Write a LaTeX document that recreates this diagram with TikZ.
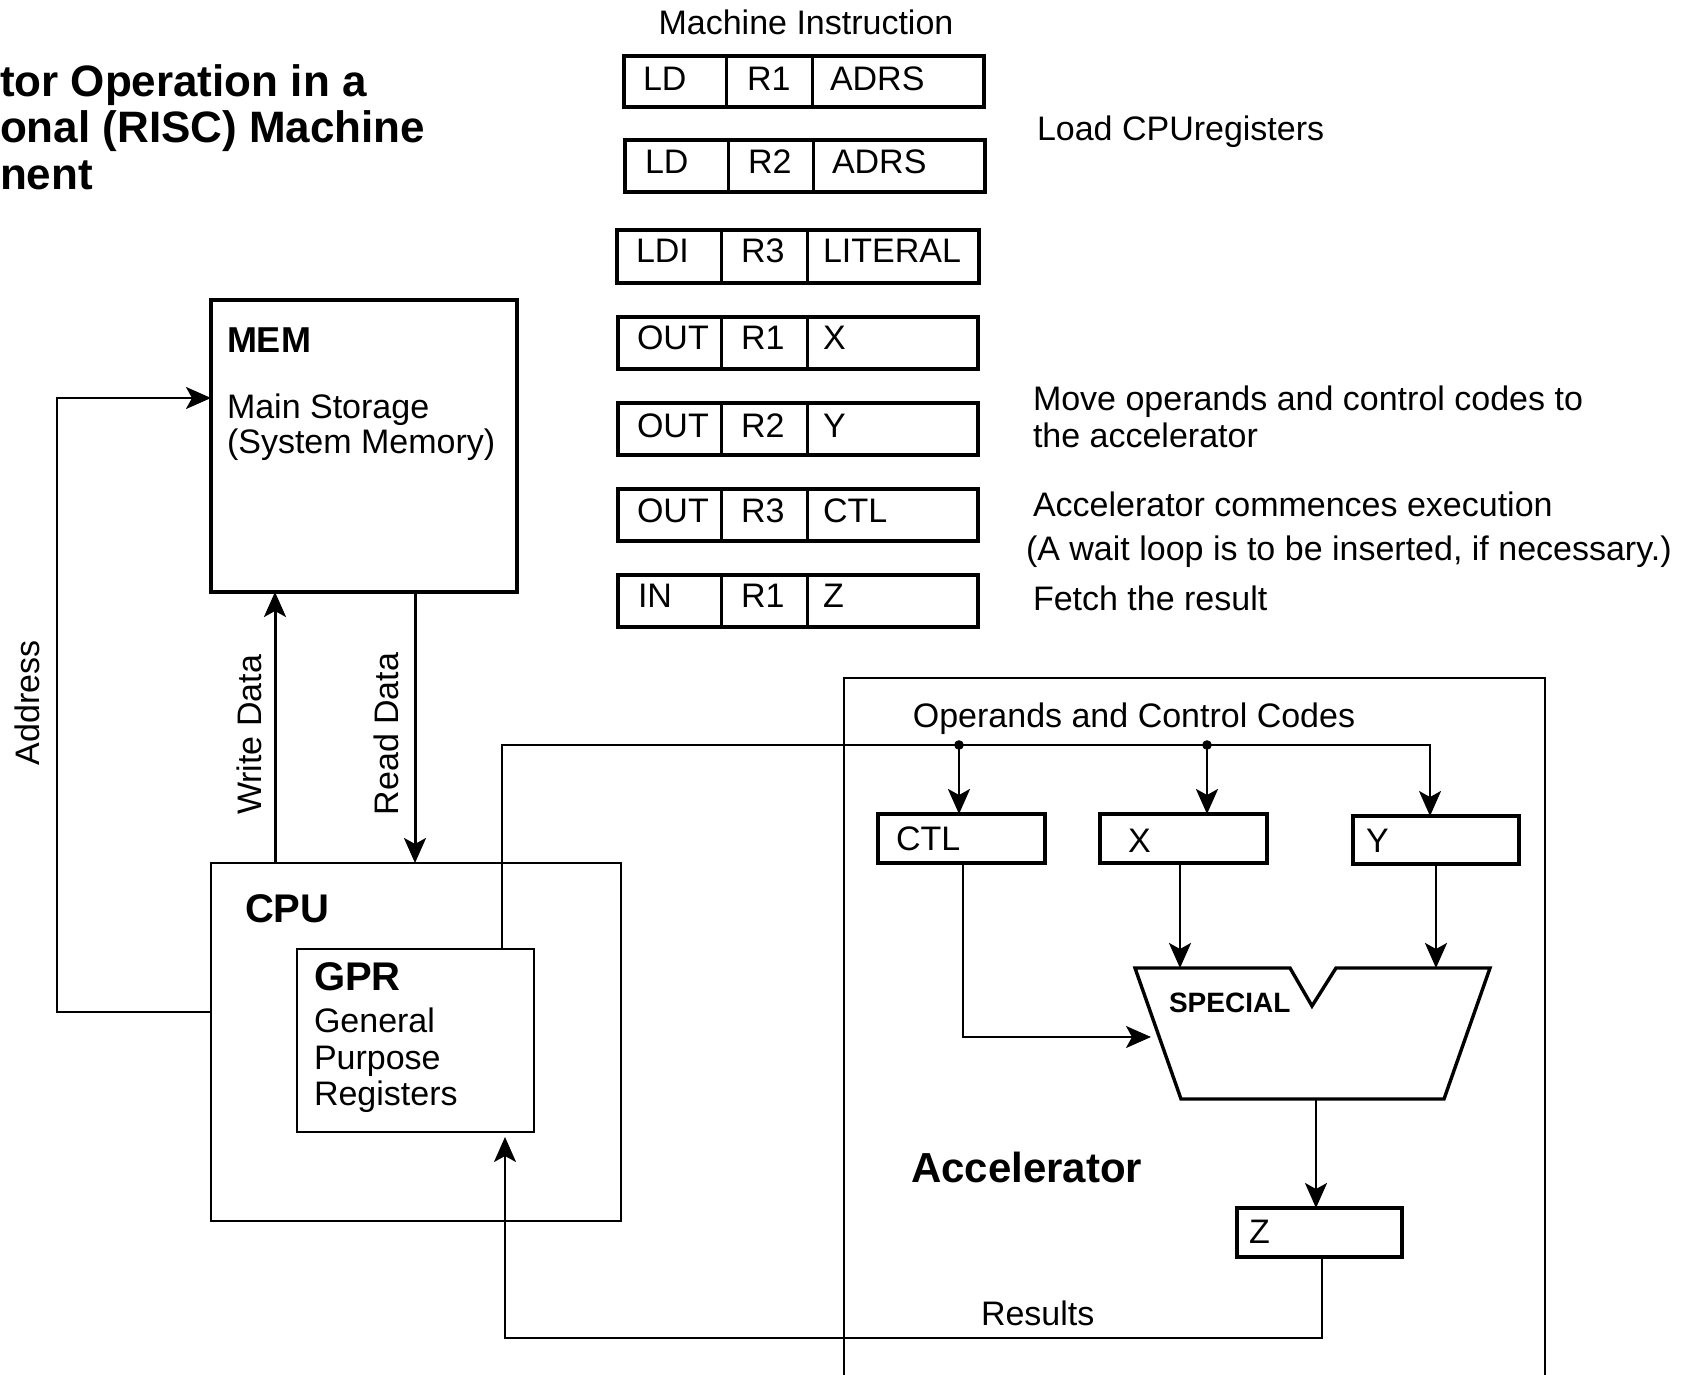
\documentclass[tikz,border=0pt]{standalone}
\usepackage{fontspec}
\setmainfont{Liberation Sans}
\usetikzlibrary{arrows.meta,fit}

\begin{document}
\begin{tikzpicture}[x=0.5pt,y=-0.5pt,
  every node/.style={inner sep=0pt,outer sep=0pt},
  txt/.style={anchor=base west,font=\fontsize{17}{20}\selectfont},
  vtxt/.style={anchor=center,rotate=90,font=\fontsize{17}{20}\selectfont},
  ttl/.style={anchor=base west,font=\bfseries\fontsize{22}{26}\selectfont},
  bold/.style={anchor=base west,font=\bfseries\fontsize{#1}{#1}\selectfont},
  heavybox/.style={draw,line width=1.7pt},
  insbox/.style={draw,line width=1.6pt},
  regbox/.style={draw,line width=1.6pt},
  thinbox/.style={draw,line width=1pt},
  conn/.style={line width=1pt},
  tip/.style={-{Stealth[length=12.5pt,width=11pt,inset=3pt]}},
  arr/.style={tip,line width=1.4pt},
  dot/.style={fill=black}]

\useasboundingbox (0,0) rectangle (1692,1375);

% title (left part)
\node[ttl] (t1) at (0,97) {tor Operation in a};
\node[ttl] (t2) at (0,143) {onal (RISC) Machine};
\node[ttl] (t3) at (0,190) {nent};

% instruction sequence
\node[anchor=base,font=\fontsize{17}{20}\selectfont] (mi) at (806,35) {Machine Instruction};
\foreach \n/\l/\t/\r/\b/\da/\db/\base/\xa/\xb/\xc/\ta/\tb/\tc in {
  1/624/56/984/107/726/812/91/643/747/830/LD/R1/ADRS,
  2/625/140/985/192/728/813/174/645/748/832/LD/R2/ADRS,
  3/617/230/979/283/721/807/263/636/741/823/LDI/R3/LITERAL,
  4/618/317/978/369/721/807/350/637/741/823/OUT/R1/X,
  5/618/403/978/455/721/807/437/637/741/823/OUT/R2/Y,
  6/618/489/978/541/721/807/522/637/741/823/OUT/R3/CTL,
  7/618/575/978/627/721/807/607/638/741/823/IN/R1/Z}
{
  \node[insbox,fit={(\l,\t) (\r,\b)}] (ins\n) {};
  \draw[line width=1.5pt] (\da,\t) -- (\da,\b);
  \draw[line width=1.5pt] (\db,\t) -- (\db,\b);
  \node[txt] (ins\n-a) at (\xa,\base) {\ta};
  \node[txt] (ins\n-b) at (\xb,\base) {\tb};
  \node[txt] (ins\n-c) at (\xc,\base) {\tc};
}

% comments on the instruction sequence
\node[txt] (c1) at (1037,141) {Load CPUregisters};
\node[txt] (c2) at (1033,410) {Move operands and control codes to};
\node[txt] (c3) at (1033,447) {the accelerator};
\node[txt] (c4) at (1033,516) {Accelerator commences execution};
\node[txt] (c5) at (1026,560) {(A wait loop is to be inserted, if necessary.)};
\node[txt] (c6) at (1033,610) {Fetch the result};

% main storage
\node[heavybox,fit={(211,300) (517,592)}] (mem) {};
\node[bold=18] (memT) at (227,352) {MEM};
\node[txt] (mem1) at (227,418) {Main Storage};
\node[txt] (mem2) at (227,453) {(System Memory)};

% CPU with general purpose registers
\node[thinbox,fit={(211,863) (621,1221)}] (cpu) {};
\node[bold=20] (cpuT) at (245,922) {CPU};
\node[thinbox,line width=1.1pt,fit={(297,949) (534,1132)}] (gpr) {};
\node[bold=20] (gprT) at (314,990) {GPR};
\node[txt] (gpr1) at (314,1032) {General};
\node[txt] (gpr2) at (314,1069) {Purpose};
\node[txt] (gpr3) at (314,1105) {Registers};

% accelerator frame (open towards the bottom edge)
\draw[line width=1pt] (844,1375) -- (844,678) -- (1545,678) -- (1545,1375);
\node[anchor=base,font=\fontsize{17}{20}\selectfont] (opc) at (1134,727) {Operands and Control Codes};
\node[bold=21] (accT) at (911,1182) {Accelerator};

% accelerator registers
\node[regbox,fit={(878,814) (1045,863)}] (ctl) {};
\node[txt] (ctlT) at (896,850) {CTL};
\node[regbox,fit={(1100,814) (1267,863)}] (xr) {};
\node[txt] (xT) at (1128,852) {X};
\node[regbox,fit={(1353,816) (1519,864)}] (yr) {};
\node[txt] (yT) at (1366,852) {Y};
\node[regbox,fit={(1237,1208) (1402,1257)}] (zr) {};
\node[txt] (zT) at (1249,1243) {Z};

% special function unit
\draw[line width=1.7pt,line join=miter] (1135,968) -- (1290,968) -- (1312,1006) -- (1336,968)
  -- (1490,968) -- (1444,1099) -- (1181,1099) -- cycle;
\node[bold=14] (spT) at (1169,1012) {SPECIAL};
\coordinate (spCtl) at (1151,1037);
\coordinate (spX) at (1180,968);
\coordinate (spY) at (1436,968);
\coordinate (spZ) at (1316,1099);

% memory connections
\coordinate (cpuAddr) at (211,1012);
\coordinate (memAddr) at (211,398);
\draw[conn,tip,line width=1.1pt] (cpuAddr) -- (57,1012) -- (57,398) -- (memAddr);
\node[vtxt] (addrL) at (27,703) {Address};
\coordinate (cpuWr) at (275,863);
\coordinate (memWr) at (275,592);
\draw[arr,line width=1.5pt] (cpuWr) -- (memWr);
\node[vtxt] (wrL) at (249,735) {Write Data};
\coordinate (memRd) at (415,592);
\coordinate (cpuRd) at (415,863);
\draw[arr,line width=1.5pt] (memRd) -- (cpuRd);
\node[vtxt] (rdL) at (386,734) {Read Data};

% operand bus from the registers to the accelerator
\coordinate (gprBus) at (502,949);
\coordinate (busA) at (959,745);
\coordinate (busB) at (1207,745);
\coordinate (yIn) at (1430,816);
\draw[conn,tip] (gprBus) |- (busB) -| (yIn);
\fill[dot] (busA) circle[radius=2.4pt];
\fill[dot] (busB) circle[radius=2.4pt];
\draw[arr] (busA) -- (busA |- ctl.north);
\draw[arr] (busB) -- (busB |- xr.north);

% data paths inside the accelerator
\coordinate (ctlOut) at (963,863);
\draw[conn,tip] (ctlOut) |- (spCtl);
\coordinate (xOut) at (1180,863);
\draw[arr] (xOut) -- (spX);
\coordinate (yOut) at (1436,864);
\draw[arr] (yOut) -- (spY);
\draw[arr,line width=1.1pt] (spZ) -- (spZ |- zr.north);

% results back to the registers
\coordinate (zOut) at (1322,1257);
\coordinate (gprIn) at (505,1137);
\draw[conn,tip] (zOut) -- (1322,1338) -| (gprIn);
\node[txt] (resL) at (981,1325) {Results};

\end{tikzpicture}
\end{document}
